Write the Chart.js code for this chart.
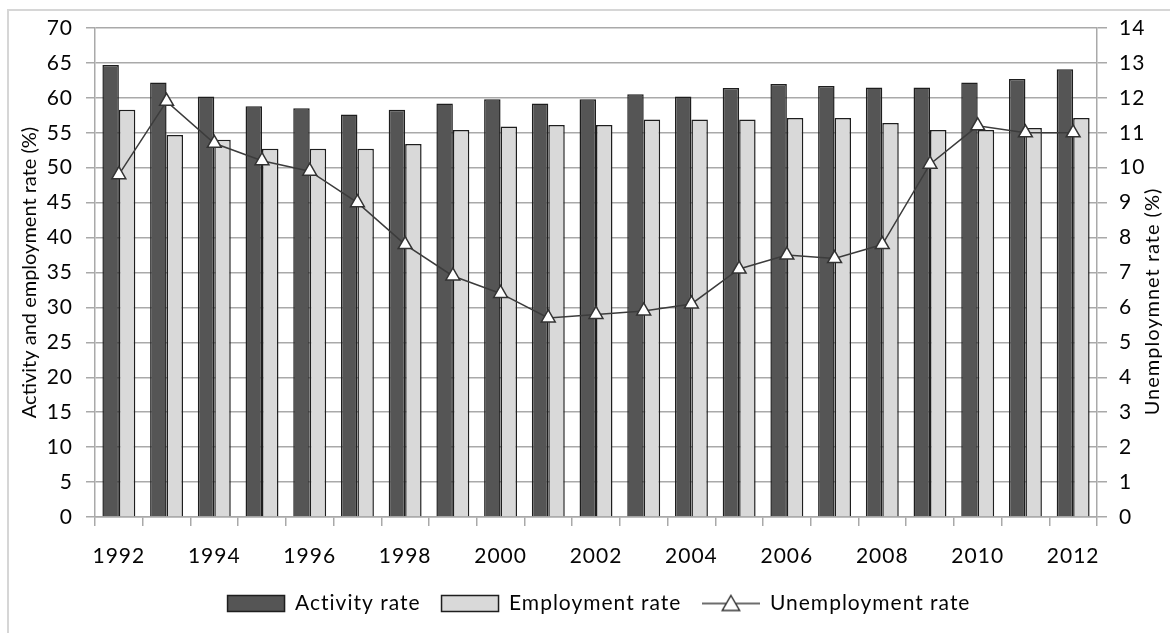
<!DOCTYPE html>
<html>
<head>
<meta charset="utf-8">
<title>Activity, employment and unemployment rates, 1992-2012</title>
<script src="https://cdn.jsdelivr.net/npm/chart.js@4.4.1/dist/chart.umd.min.js"></script>
<style>
    html, body { margin: 0; padding: 0; background: #fff; overflow: hidden; }
    #frame {
        position: absolute; left: 7px; top: 9px; width: 1300px; height: 800px;
        border-left: 2px solid #d6d6d6; border-top: 2px solid #d6d6d6;
    }
    #wrap { position: absolute; left: 0; top: 0; width: 1170px; height: 633px; }
</style>
</head>
<body>
<div id="frame"></div>
<div id="wrap"><canvas id="chart" width="1170" height="633"></canvas></div>
<script>
const years = ["1992", "1993", "1994", "1995", "1996", "1997", "1998", "1999", "2000", "2001",
               "2002", "2003", "2004", "2005", "2006", "2007", "2008", "2009", "2010", "2011", "2012"];

const activityRate = [64.7, 62.2, 60.2, 58.8, 58.5, 57.6, 58.3, 59.2, 59.8, 59.2,
                      59.8, 60.5, 60.2, 61.4, 62.0, 61.7, 61.5, 61.5, 62.2, 62.7, 64.1];

const employmentRate = [58.3, 54.7, 54.0, 52.7, 52.7, 52.7, 53.4, 55.4, 55.9, 56.1,
                        56.1, 56.9, 56.9, 56.9, 57.1, 57.1, 56.4, 55.4, 55.4, 55.7, 57.1];

const unemploymentRate = [9.8, 11.9, 10.7, 10.2, 9.9, 9.0, 7.8, 6.9, 6.4, 5.7,
                          5.8, 5.9, 6.1, 7.1, 7.5, 7.4, 7.8, 10.1, 11.2, 11.0, 11.0];

const seriesNames = ["Activity rate", "Employment rate", "Unemployment rate"];
const leftTitle = "Activity and employment rate (%)";
const rightTitle = "Unemploymnet rate (%)";

const FONT = "Lato, 'Open Sans', sans-serif";
const textColor = "#050505";
const gridColor = "#a9a9a9";
const darkFill = "#555555";
const lightFill = "#d9d9d9";
const edge = "#1e1e1e";
const lineColor = "#3c3c3c";

// legend swatch for the line series: short line with a triangle marker
function lineSwatch() {
    const c = document.createElement("canvas");
    c.width = 58;
    c.height = 20;
    const g = c.getContext("2d");
    g.strokeStyle = lineColor;
    g.lineWidth = 1.5;
    g.beginPath();
    g.moveTo(0, 10);
    g.lineTo(58, 10);
    g.stroke();
    const r = 10;
    g.beginPath();
    g.moveTo(29, 10 - r + 2);
    g.lineTo(29 + r * 0.866, 10 + r / 2 + 2);
    g.lineTo(29 - r * 0.866, 10 + r / 2 + 2);
    g.closePath();
    g.fillStyle = "#fff";
    g.fill();
    g.strokeStyle = "#333";
    g.stroke();
    return c;
}

// slightly open tracking for ticks and legend, set before measuring and drawing
const tracking = {
    id: "tracking",
    beforeLayout(chart) { chart.ctx.letterSpacing = "1px"; },
    beforeDraw(chart) { chart.ctx.letterSpacing = "1px"; }
};

// both axis titles read bottom-to-top
const axisTitles = {
    id: "axisTitles",
    afterDraw(chart) {
        const { ctx, chartArea } = chart;
        const mid = (chartArea.top + chartArea.bottom) / 2;
        ctx.save();
        ctx.font = `20px ${FONT}`;
        ctx.fillStyle = textColor;
        ctx.textAlign = "center";
        ctx.textBaseline = "middle";
        [[leftTitle, 30, mid, "0px"], [rightTitle, 1153, mid + 29, "1px"]].forEach(([text, x, y, ls]) => {
            ctx.save();
            ctx.letterSpacing = ls;
            ctx.translate(x, y);
            ctx.rotate(-Math.PI / 2);
            ctx.fillText(text, 0, 0);
            ctx.restore();
        });
        ctx.restore();
    }
};

function renderChart() {
    const ctx = document.getElementById("chart");
    const tickFont = { family: FONT, size: 21 };

    new Chart(ctx, {
        type: "bar",
        data: {
            labels: years,
            datasets: [
                {
                    label: seriesNames[0],
                    data: activityRate,
                    backgroundColor: darkFill,
                    borderColor: edge,
                    borderWidth: 1.5,
                    yAxisID: "y",
                    order: 1
                },
                {
                    label: seriesNames[1],
                    data: employmentRate,
                    backgroundColor: lightFill,
                    borderColor: edge,
                    borderWidth: 1.5,
                    yAxisID: "y",
                    order: 2
                },
                {
                    type: "line",
                    label: seriesNames[2],
                    data: unemploymentRate,
                    borderColor: lineColor,
                    borderWidth: 1.5,
                    pointStyle: "triangle",
                    pointRadius: 8,
                    pointBackgroundColor: "#fff",
                    pointBorderColor: "#333",
                    pointBorderWidth: 1.5,
                    tension: 0,
                    yAxisID: "y1",
                    order: 0
                }
            ]
        },
        options: {
            responsive: false,
            animation: false,
            devicePixelRatio: 1,
            events: [],
            datasets: {
                bar: { barPercentage: 1.0, categoryPercentage: 0.69 }
            },
            layout: { padding: { top: 28, left: 28, right: 0, bottom: 9 } },
            font: { family: FONT, size: 21 },
            color: textColor,
            scales: {
                x: {
                    grid: {
                        offset: true,
                        drawOnChartArea: false,
                        drawTicks: true,
                        tickLength: 9,
                        color: gridColor,
                        lineWidth: 1.5
                    },
                    border: { color: gridColor, width: 1.5 },
                    ticks: {
                        autoSkip: false,
                        maxRotation: 0,
                        padding: 18,
                        color: textColor,
                        font: tickFont,
                        callback: (value, index) => index % 2 === 0 ? years[index] : ""
                    },
                    afterFit: scale => { scale.height = 55; }
                },
                y: {
                    position: "left",
                    min: 0,
                    max: 70,
                    ticks: {
                        stepSize: 5,
                        padding: 13,
                        color: textColor,
                        font: tickFont
                    },
                    grid: { color: gridColor, lineWidth: 1.5, tickLength: 9 },
                    border: { color: gridColor, width: 1.5 },
                    afterFit: scale => { scale.width = 67; }
                },
                y1: {
                    position: "right",
                    min: 0,
                    max: 14,
                    ticks: {
                        stepSize: 1,
                        padding: 12,
                        color: textColor,
                        font: tickFont
                    },
                    grid: { drawOnChartArea: false, color: gridColor, lineWidth: 1.5, tickLength: 10 },
                    border: { color: gridColor, width: 1.5 },
                    afterFit: scale => { scale.width = 73; }
                }
            },
            plugins: {
                tooltip: { enabled: false },
                legend: {
                    position: "bottom",
                    labels: {
                        usePointStyle: true,
                        pointStyleWidth: 57,
                        boxHeight: 16,
                        padding: 21,
                        color: textColor,
                        font: { family: FONT, size: 21 },
                        generateLabels: chart => chart.data.datasets.map((ds, i) => ({
                            text: ds.label,
                            datasetIndex: i,
                            fillStyle: ds.backgroundColor,
                            strokeStyle: edge,
                            lineWidth: 1.5,
                            pointStyle: ds.type === "line" ? lineSwatch() : "rect",
                            fontColor: textColor,
                            hidden: false
                        }))
                    }
                }
            }
        },
        plugins: [tracking, axisTitles]
    });
}

renderChart();
</script>
</body>
</html>
